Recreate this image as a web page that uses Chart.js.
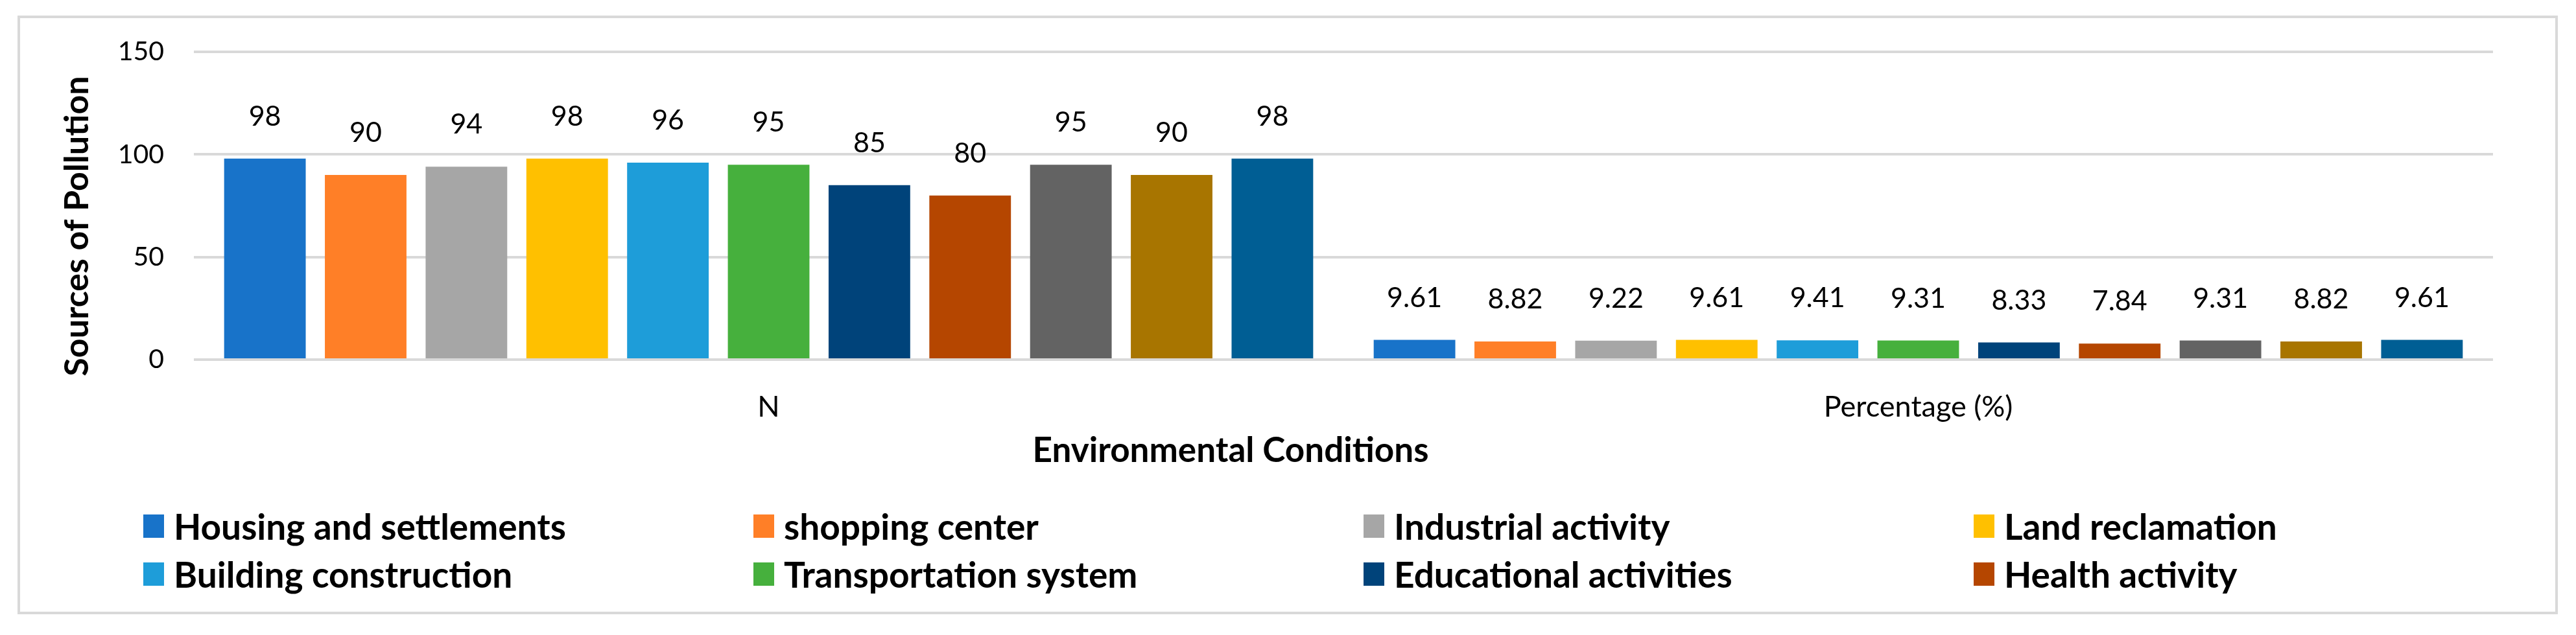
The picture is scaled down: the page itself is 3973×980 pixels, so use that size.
<!DOCTYPE html>
<html>
<head>
<meta charset="utf-8">
<title>Sources of Pollution</title>
<script src="https://cdn.jsdelivr.net/npm/chart.js@4.4.0/dist/chart.umd.min.js"></script>
<style>
  body { margin: 0; background: #fff; }
  #frame { position: absolute; left: 27px; top: 24px; width: 3910px; height: 916px; border: 4px solid #d9d9d9; }
  #area { position: absolute; left: 0; top: 0; width: 3973px; height: 980px; }
  #legend {
    position: absolute; left: 221px; top: 775px;
    display: grid; grid-template-columns: repeat(4, 941px);
    font-family: Lato; font-weight: bold; font-size: 55px; color: #000;
  }
  .item { display: flex; align-items: center; height: 74px; white-space: nowrap; }
  .box { width: 32px; height: 36px; margin-right: 15px; flex: none; }
</style>
</head>
<body>
<div id="frame"></div>
<div id="area"><canvas id="chart"></canvas></div>
<div id="legend"></div>
<script>
const categories = ['N', 'Percentage (%)'];

const sources = [
    'Housing and settlements',
    'shopping center',
    'Industrial activity',
    'Land reclamation',
    'Building construction',
    'Transportation system',
    'Educational activities',
    'Health activity',
    'Source 9',   // not visible in the legend (third row is cut off)
    'Source 10',
    'Source 11'
];

const countN = [98, 90, 94, 98, 96, 95, 85, 80, 95, 90, 98];
const percent = [9.61, 8.82, 9.22, 9.61, 9.41, 9.31, 8.33, 7.84, 9.31, 8.82, 9.61];

const colors = [
    '#1873c9', '#ff7f27', '#a6a6a6', '#ffc000', '#1e9dd9', '#46b03d',
    '#00437a', '#b54600', '#636363', '#a87500', '#005e94'
];

const yTicks = [0, 50, 100, 150];
const legendItems = 8; // only two rows of the legend show up in the picture

// labels over the bars
const valueLabels = {
    id: 'valueLabels',
    afterDatasetsDraw(chart) {
        let ctx = chart.ctx;
        ctx.save();
        ctx.font = '43px Lato';
        ctx.fillStyle = '#000';
        ctx.textAlign = 'center';
        ctx.textBaseline = 'alphabetic';
        chart.data.datasets.forEach((ds, i) => {
            chart.getDatasetMeta(i).data.forEach((bar, j) => {
                ctx.fillText(String(ds.data[j]), bar.x, bar.y - 51);
            });
        });
        ctx.restore();
    }
};

// axis titles (placed like in the original, not centred on the plot)
const axisTitles = {
    id: 'axisTitles',
    afterDraw(chart) {
        let ctx = chart.ctx;
        ctx.save();
        ctx.font = 'bold 53px Lato';
        ctx.fillStyle = '#000';
        ctx.textAlign = 'center';
        ctx.textBaseline = 'alphabetic';
        ctx.fillText('Environmental Conditions', 1898, 713);
        ctx.translate(136, 349);
        ctx.rotate(-Math.PI / 2);
        ctx.font = 'bold 52px Lato';
        ctx.fillText('Sources of Pollution', 0, 0);
        ctx.restore();
    }
};

function buildDatasets() {
    return sources.map((name, i) => ({
        label: name,
        data: [countN[i], percent[i]],
        backgroundColor: colors[i],
        borderWidth: 0,
        categoryPercentage: 0.964,
        barPercentage: 0.81
    }));
}

function buildLegend() {
    let html = '';
    sources.slice(0, legendItems).forEach((name, i) => {
        html += `<div class="item"><span class="box" style="background:${colors[i]}"></span>${name}</div>`;
    });
    document.getElementById('legend').innerHTML = html;
}

Chart.defaults.font.family = 'Lato';
Chart.defaults.color = '#000';

new Chart(document.getElementById('chart').getContext('2d'), {
    type: 'bar',
    data: {
        labels: categories,
        datasets: buildDatasets()
    },
    options: {
        responsive: true,
        maintainAspectRatio: false,
        animation: false,
        layout: { padding: { left: 0, top: 80, right: 128, bottom: 0 } },
        plugins: {
            legend: { display: false },
            tooltip: { enabled: false }
        },
        scales: {
            x: {
                grid: { display: false },
                border: { display: false },
                ticks: { font: { size: 45 }, padding: 38 },
                afterFit(scale) { scale.height = 425; }
            },
            y: {
                min: yTicks[0],
                max: yTicks[yTicks.length - 1],
                grid: { color: '#d9d9d9', lineWidth: 4, drawTicks: false },
                border: { display: false },
                ticks: { stepSize: yTicks[1] - yTicks[0], font: { size: 41 }, padding: 46 },
                afterFit(scale) { scale.width = 299; }
            }
        }
    },
    plugins: [valueLabels, axisTitles]
});

buildLegend();
</script>
</body>
</html>
